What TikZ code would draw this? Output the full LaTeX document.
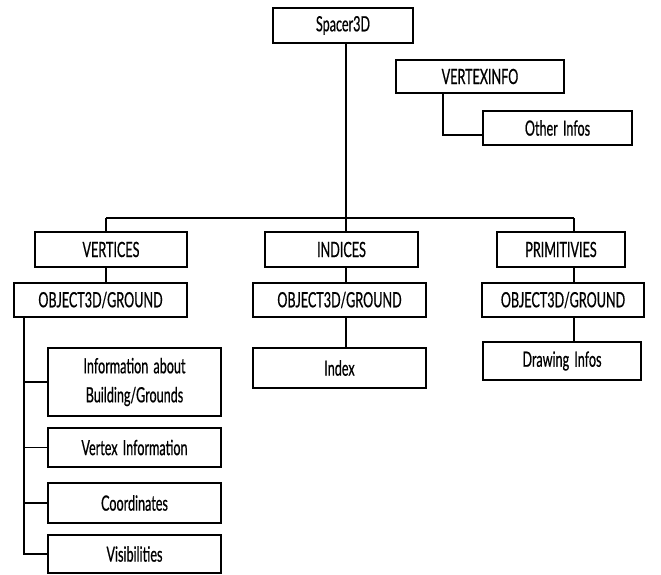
\documentclass[tikz,border=0pt]{standalone}
\usepackage{fontspec}
\setmainfont{Lato}[FakeStretch=0.6,FakeBold=0.6,WordSpace=1.6]
\tikzset{
  box/.style={draw,line width=1.4pt,inner sep=0pt,align=center,font=\fontsize{21}{29}\selectfont},
  link/.style={line width=1.6pt}
}
\begin{document}
\begin{tikzpicture}[x=1pt,y=-1pt]
  \useasboundingbox (0,0) rectangle (661,575);
  \draw
    (343,25.5) node[box,minimum width=140pt,minimum height=35pt] (root){Spacer3D}
    (480,76.5) node[box,minimum width=168pt,minimum height=33pt] (vinfo){VERTEXINFO}
    (557.5,128) node[box,minimum width=149pt,minimum height=34pt] (other){Other Infos}
    (111,249.5) node[box,minimum width=152pt,minimum height=35pt] (verts){VERTICES}
    (341.5,249.5) node[box,minimum width=153pt,minimum height=35pt] (inds){INDICES}
    (561,249.5) node[box,minimum width=128pt,minimum height=35pt] (prims){PRIMITIVIES}
    (100.5,300) node[box,minimum width=173pt,minimum height=34pt] (obj1){OBJECT3D/GROUND}
    (339.5,300) node[box,minimum width=173pt,minimum height=34pt] (obj2){OBJECT3D/GROUND}
    (563,300) node[box,minimum width=162pt,minimum height=34pt] (obj3){OBJECT3D/GROUND}
    (339.5,368) node[box,minimum width=173pt,minimum height=40pt] (index){Index}
    (562,361) node[box,minimum width=158pt,minimum height=38pt] (drawinf){Drawing Infos}
    (134.5,382) node[box,minimum width=173pt,minimum height=68pt] (info){Information about\\Building/Grounds}
    (134.5,447.5) node[box,minimum width=173pt,minimum height=39pt] (vertinf){Vertex Information}
    (134.5,503) node[box,minimum width=173pt,minimum height=40pt] (coord){Coordinates}
    (134.5,554) node[box,minimum width=173pt,minimum height=38pt] (vis){Visibilities};
  \coordinate (b1) at (106,218);
  \coordinate (b2) at (346,218);
  \coordinate (b3) at (574,218);
  \coordinate (vi) at (443,135);
  \coordinate (lc) at (24,554);
  \begin{scope}[link]
    \draw (root.south -| b2) -- (b2);
    \draw (b1) -- (b3);
    \draw (b1) -- (b1 |- verts.north);
    \draw (b2) -- (b2 |- inds.north);
    \draw (b3) -- (b3 |- prims.north);
    \draw (verts.south -| b1) -- (obj1.north -| b1);
    \draw (inds.south -| b2) -- (obj2.north -| b2);
    \draw (prims.south -| b3) -- (obj3.north -| b3);
    \draw (obj2.south -| b2) -- (index.north -| b2);
    \draw (obj3.south -| b3) -- (drawinf.north -| b3);
    \draw (vinfo.south -| vi) -- (vi) -- (vi -| other.west);
    \draw (obj1.south -| lc) -- (lc |- vis.west) -- (vis.west);
    \draw (lc |- info.west) -- (info.west);
    \draw (lc |- vertinf.west) -- (vertinf.west);
    \draw (lc |- coord.west) -- (coord.west);
  \end{scope}
\end{tikzpicture}
\end{document}
